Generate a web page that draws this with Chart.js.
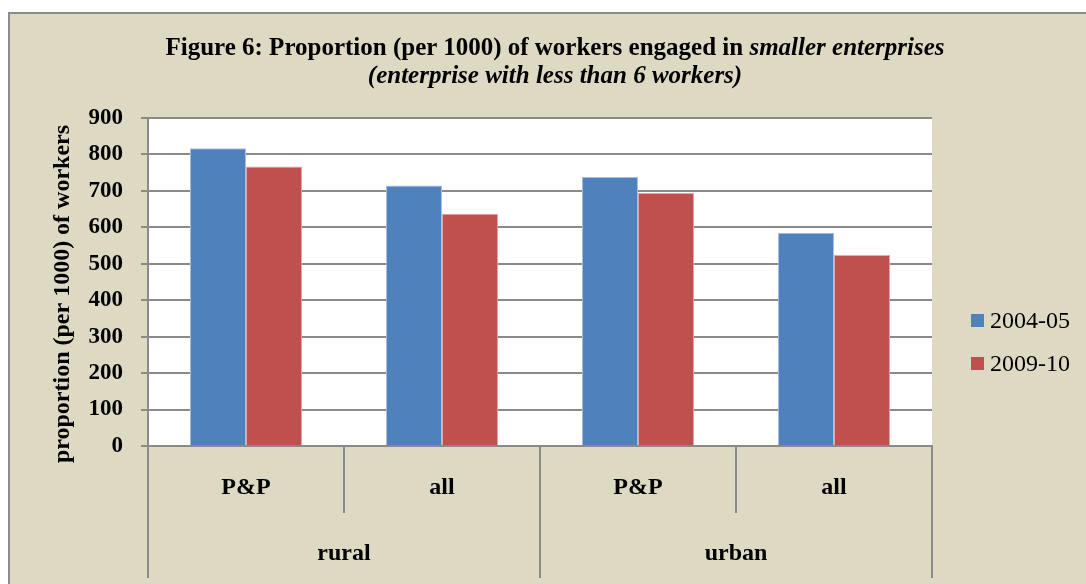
<!DOCTYPE html>
<html>
<head>
<meta charset="utf-8">
<script src="https://cdn.jsdelivr.net/npm/chart.js@4.4.1/dist/chart.umd.min.js"></script>
<style>
body { margin:0; background:#fff; width:1086px; height:584px; overflow:hidden; position:relative; }
#frame { position:absolute; left:8px; top:12px; width:1090px; height:590px; background:#ddd9c3; border-left:2px solid #8c8c8c; border-top:2px solid #8c8c8c; }
#title { position:absolute; left:7px; top:19px; width:1076px; text-align:center; font-family:"Liberation Serif"; font-weight:bold; font-size:25px; line-height:28px; color:#000; }
#box { position:absolute; left:0; top:0; width:1076px; height:570px; }
#legend { position:absolute; left:961px; top:285px; font-family:"Liberation Serif"; font-size:24px; color:#000; }
#legend div { position:relative; height:43px; line-height:43px; padding-left:19px; }
#legend span { position:absolute; left:0; top:15px; width:13px; height:13px; }
</style>
</head>
<body>
<div id="frame">
  <div id="box"><canvas id="myChart" width="1076" height="570"></canvas></div>
  <div id="title">Figure 6: Proportion (per 1000) of workers engaged in <i>smaller enterprises</i><br><i>(enterprise with less than 6 workers)</i></div>
  <div id="legend"></div>
</div>
<script>
// data
var groups = ['rural', 'urban']
var categories = ['P&P', 'all', 'P&P', 'all']
var seriesNames = ['2004-05', '2009-10']
var values0405 = [817, 715, 738, 585]
var values0910 = [767, 637, 694, 524]
var yTicks = [0, 100, 200, 300, 400, 500, 600, 700, 800, 900]

var blue = '#4f81bd'
var red = '#c0504d'
var gridGray = '#8a8a8a'
var serif = 'Liberation Serif'

// white plot area on the beige frame
var plotBg = {
    id: 'plotBg',
    beforeDraw: function(chart) {
        var a = chart.chartArea
        var ctx = chart.ctx
        ctx.save()
        ctx.fillStyle = '#ffffff'
        ctx.fillRect(a.left, a.top, a.right - a.left, a.bottom - a.top)
        ctx.restore()
    }
}

function buildGraph() {
    var ctx = document.getElementById('myChart').getContext('2d')
    var chart = new Chart(ctx, {
        type: 'bar',
        data: {
            labels: categories,
            datasets: [
                { label: seriesNames[0], data: values0405, backgroundColor: blue, borderColor: '#a7bfe0', borderWidth: 1 },
                { label: seriesNames[1], data: values0910, backgroundColor: red, borderColor: '#e3a7a5', borderWidth: 1 }
            ]
        },
        options: {
            responsive: false,
            animation: false,
            layout: { padding: { top: 104, left: 38, right: 154, bottom: 6 } },
            datasets: { bar: { categoryPercentage: 0.572, barPercentage: 1.0 } },
            plugins: {
                legend: { display: false },
                title: { display: false },
                tooltip: { enabled: false }
            },
            scales: {
                y: {
                    min: 0,
                    max: 900,
                    afterBuildTicks: function(scale) {
                        scale.ticks = yTicks.map(function(v) { return { value: v } })
                    },
                    afterFit: function(scale) { scale.width = 100 },
                    grid: { color: gridGray, lineWidth: 2, tickLength: 7 },
                    border: { color: gridGray, width: 2 },
                    ticks: { color: '#000', padding: 18, font: { family: serif, size: 23, weight: 'bold' } },
                    title: {
                        display: true,
                        // trailing spaces nudge the rotated title down a little, as in the original
                        text: 'proportion (per 1000) of workers    ',
                        color: '#000',
                        padding: 0,
                        font: { family: serif, size: 24, weight: 'bold' }
                    }
                },
                x: {
                    offset: true,
                    afterFit: function(scale) { scale.height = 67 },
                    grid: { offset: true, drawOnChartArea: false, color: gridGray, lineWidth: 2, tickLength: 67 },
                    border: { color: gridGray, width: 2 },
                    ticks: { color: '#000', padding: -40, font: { family: serif, size: 24, weight: 'bold' } }
                },
                x2: {
                    type: 'category',
                    position: 'bottom',
                    labels: groups,
                    offset: true,
                    afterFit: function(scale) { scale.height = 65 },
                    grid: { offset: true, drawOnChartArea: false, color: gridGray, lineWidth: 2, tickLength: 65 },
                    border: { display: false },
                    ticks: { color: '#000', padding: -39, font: { family: serif, size: 24, weight: 'bold' } }
                }
            }
        },
        plugins: [plotBg]
    })

    // legend built from the datasets
    var legend = document.getElementById('legend')
    chart.data.datasets.forEach(function(ds) {
        var row = document.createElement('div')
        var sw = document.createElement('span')
        sw.style.background = ds.backgroundColor
        row.appendChild(sw)
        row.appendChild(document.createTextNode(ds.label))
        legend.appendChild(row)
    })
}

buildGraph()
</script>
</body>
</html>
